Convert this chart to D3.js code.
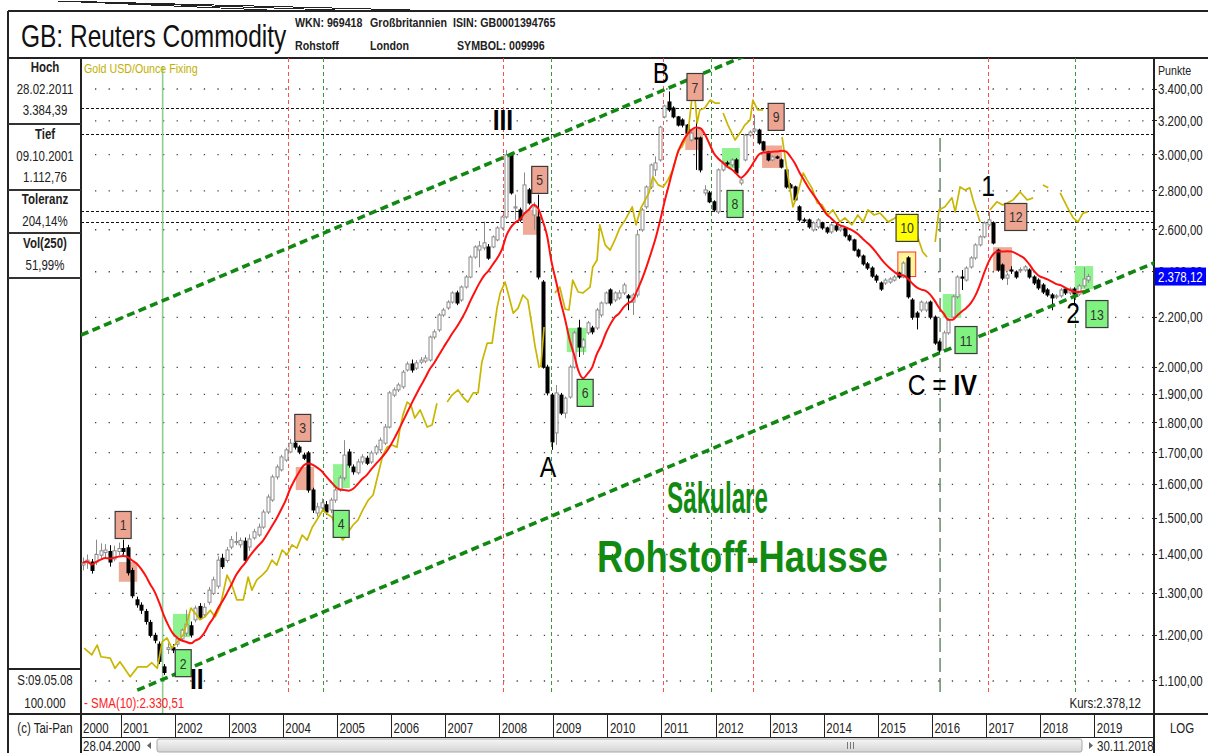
<!DOCTYPE html>
<html>
<head>
<meta charset="utf-8">
<style>
  body { margin: 0; background: #fff; }
</style>
</head>
<body>
<script src="https://d3js.org/d3.v7.min.js"></script>
<script>
// ---- monthly candles, April 2000 .. November 2018 ----
const START_YEAR = 2000, START_MONTH = 3;
const OPEN = [
  1372,1378,1380,1380,1398,1405,1408,1388,1408,
  1416,1418,1358,1284,1271,1256,1230,1200,1180,1130,1168,1172,
  1180,1192,1205,1222,1236,1268,1248,1278,1300,1318,1390,1384,
  1420,1432,1426,1436,1420,1445,1453,1475,1518,1553,1623,1645,
  1676,1702,1731,1718,1692,1699,1583,1515,1530,1539,1524,1553,
  1583,1620,1702,1654,1636,1670,1682,1670,1699,1709,1731,1785,
  1897,1916,1927,1990,2013,1997,2020,2024,2028,2119,2148,2210,
  2240,2265,2305,2274,2331,2376,2468,2501,2511,2516,2516,2550,
  2609,2664,2998,2710,2700,2685,2805,2674,2664,2353,2001,1897,
  1765,1897,1833,1890,2001,2156,2079,2136,2156,2156,2210,2261,
  2318,2274,2283,2305,2292,2265,2296,2599,2716,2821,2914,2970,
  3224,3317,3279,3224,3205,3174,3085,3097,3097,2789,2789,2742,
  2690,2914,2953,2942,2970,2842,2970,3114,3138,3144,3074,3016,
  2970,2987,2970,2914,2832,2821,2716,2649,2649,2599,2614,2634,
  2609,2589,2619,2599,2609,2570,2550,2501,2473,2436,2417,2380,
  2349,2349,2353,2362,2394,2376,2464,2274,2218,2231,2231,2265,
  2201,2099,2067,2136,2201,2288,2376,2362,2422,2464,2526,2565,
  2624,2634,2501,2431,2371,2408,2399,2405,2408,2408,2376,2362,
  2340,2318,2296,2287,2292,2322,2305,2322,2300,2336,2362
];
const HIGH = [
  1392,1400,1388,1440,1430,1428,1425,1424,1432,
  1440,1426,1365,1292,1278,1262,1236,1206,1186,1136,1182,1180,
  1196,1216,1260,1232,1270,1276,1276,1316,1342,1395,1402,1420,
  1450,1462,1446,1446,1455,1470,1485,1525,1570,1630,1662,1693,
  1716,1745,1740,1724,1700,1705,1590,1545,1558,1550,1560,1590,
  1628,1741,1712,1662,1680,1695,1690,1706,1726,1750,1795,1912,
  1925,1942,1990,2022,2030,2028,2040,2048,2125,2150,2218,2240,
  2273,2312,2315,2338,2385,2476,2524,2545,2640,2530,2572,2618,
  2672,3027,3015,2780,2712,2900,2815,2740,2780,2362,2010,1905,
  1934,1905,1892,2010,2145,2190,2115,2185,2165,2240,2268,2312,
  2325,2312,2318,2350,2300,2305,2599,2710,2830,2950,2990,3170,
  3300,3384.39,3290,3230,3215,3180,3135,3205,3105,2830,2800,2750,
  2922,2962,2965,2980,2980,2875,3122,3142,3236,3152,3080,3022,
  2995,2995,2978,2922,2842,2828,2724,2660,2656,2642,2658,2640,
  2615,2632,2628,2618,2615,2578,2556,2508,2480,2445,2425,2388,
  2356,2370,2375,2385,2400,2448,2472,2282,2226,2272,2270,2272,
  2208,2106,2145,2197,2296,2384,2408,2425,2472,2534,2573,2642,
  2690,2642,2508,2438,2394,2425,2406,2420,2430,2415,2384,2370,
  2348,2326,2304,2300,2326,2330,2330,2330,2344,2420,2390
];
const LOW = [
  1358,1362,1350,1372,1385,1392,1368,1382,1398,
  1400,1345,1288,1265,1250,1225,1195,1182,1136,1112.76,1158,1160,
  1174,1188,1198,1195,1230,1236,1243,1272,1296,1312,1362,1378,
  1414,1425,1418,1380,1410,1440,1448,1470,1512,1548,1615,1640,
  1670,1698,1710,1695,1676,1575,1515,1505,1522,1510,1515,1545,
  1578,1612,1652,1630,1630,1662,1660,1664,1692,1702,1725,1780,
  1890,1908,1920,1984,1980,1990,2012,2016,2022,2110,2140,2202,
  2232,2258,2252,2266,2324,2370,2460,2420,2500,2455,2510,2543,
  2600,2655,2780,2650,2640,2675,2727,2600,2365,1995,1896,1709,
  1725,1826,1815,1884,1995,2040,2048,2128,2130,2148,2200,2255,
  2250,2265,2275,2296,2230,2210,2285,2590,2705,2810,2880,2960,
  3215,3255,3215,3165,3160,3115,3075,2914,2900,2775,2735,2690,
  2680,2905,2935,2930,2888,2830,2962,3105,3125,3058,3018,2962,
  2962,2975,2922,2812,2808,2745,2640,2635,2605,2590,2605,2600,
  2580,2580,2590,2590,2562,2542,2495,2465,2428,2408,2372,2350,
  2314,2340,2345,2355,2368,2370,2280,2190,2150,2222,2222,2192,
  2088,2055,2060,2128,2195,2280,2318,2355,2414,2455,2518,2558,
  2615,2528,2400,2362,2340,2390,2368,2396,2400,2368,2340,2318,
  2300,2288,2230,2278,2284,2296,2296,2250,2292,2328,2350
];
const CLOSE = [
  1378,1385,1358,1400,1410,1412,1380,1410,1416,
  1408,1352,1294,1272,1259,1232,1200,1189,1142,1118,1172,1167,
  1192,1212,1226,1201,1264,1242,1266,1308,1334,1385,1368,1412,
  1440,1435,1438,1385,1442,1462,1475,1518,1562,1623,1654,1686,
  1709,1731,1718,1702,1682,1583,1524,1533,1545,1518,1553,1583,
  1620,1692,1660,1639,1670,1686,1666,1699,1719,1741,1785,1905,
  1916,1934,1982,2013,1990,2017,2028,2036,2119,2140,2210,2231,
  2265,2305,2261,2331,2376,2468,2516,2521,2536,2463,2565,2609,
  2664,2998,2789,2716,2649,2832,2736,2716,2376,2001,1905,1735,
  1905,1833,1886,2001,2136,2079,2107,2177,2140,2231,2261,2305,
  2261,2305,2305,2340,2283,2296,2575,2700,2821,2942,2953,3162,
  3292,3267,3224,3174,3174,3126,3126,3091,2914,2805,2742,2700,
  2914,2953,2948,2970,2897,2859,3114,3132,3150,3068,3027,2970,
  2987,2981,2930,2821,2816,2752,2649,2644,2614,2634,2649,2609,
  2589,2624,2599,2609,2570,2550,2501,2473,2436,2417,2380,2362,
  2322,2362,2367,2376,2376,2440,2288,2201,2201,2265,2261,2201,
  2095,2067,2136,2189,2288,2376,2371,2417,2464,2526,2565,2634,
  2649,2535,2408,2371,2385,2403,2376,2410,2422,2376,2349,2327,
  2309,2296,2283,2292,2318,2305,2322,2300,2336,2367,2378.12
];

// Gold USD/Ounce Fixing overlay [year, points]; null = gap
const GOLD = [
  [2000.32,1171],[2000.46,1156],[2000.56,1178],[2000.63,1152],[2000.80,1149],[2000.89,1127],[2000.98,1141],
  [2001.17,1109],[2001.31,1130],[2001.48,1130],[2001.57,1139],[2001.67,1127],[2001.76,1185],[2001.85,1194],[2001.94,1171],
  [2002.04,1185],[2002.15,1201],[2002.22,1229],[2002.29,1264],[2002.37,1252],[2002.46,1236],[2002.55,1243],[2002.65,1259],
  [2002.74,1243],[2002.83,1266],[2002.96,1346],[2003.05,1321],[2003.14,1284],[2003.26,1284],[2003.35,1341],[2003.42,1308],
  [2003.51,1334],[2003.61,1346],[2003.70,1359],[2003.79,1385],[2003.88,1372],[2003.98,1412],[2004.07,1399],[2004.16,1426],
  [2004.25,1417],[2004.35,1453],[2004.44,1439],[2004.53,1473],[2004.62,1495],[2004.73,1524],[2004.83,1510],[2004.90,1504],
  [2004.99,1467],[2005.10,1439],[2005.20,1461],[2005.29,1481],[2005.38,1495],[2005.47,1524],[2005.57,1553],[2005.66,1568],
  [2005.75,1629],[2005.84,1692],[2005.92,1718],[2006.01,1725],[2006.10,1718],[2006.16,1782],[2006.21,1826],[2006.29,1872],
  [2006.36,1861],[2006.43,1816],[2006.53,1844],[2006.66,1785],[2006.75,1792],[2006.84,1868],
  null,
  [2007.03,1872],[2007.12,1897],[2007.23,1916],[2007.32,1890],[2007.41,1872],[2007.51,1905],[2007.60,1905],[2007.67,2020],
  [2007.77,2095],[2007.86,2095],[2007.95,2239],[2008.01,2305],[2008.10,2353],[2008.15,2309],[2008.25,2218],[2008.34,2239],
  [2008.43,2296],[2008.52,2274],[2008.60,2160],[2008.65,2087],[2008.73,1998],
  null,
  [2008.76,2001],[2008.82,2160],
  null,
  [2009.02,2305],[2009.11,2331],[2009.21,2235],[2009.28,2231],[2009.35,2362],[2009.45,2309],[2009.54,2305],[2009.67,2331],
  [2009.72,2422],[2009.80,2454],[2009.85,2624],[2009.95,2526],[2010.04,2501],[2010.13,2550],[2010.22,2609],[2010.32,2649],
  [2010.45,2716],[2010.52,2624],[2010.61,2710],[2010.69,2752],[2010.76,2789],[2010.83,2876],[2010.93,2832],[2011.02,2821],
  [2011.11,2859],[2011.20,2914],[2011.30,3027],[2011.37,3045],[2011.48,3126],[2011.55,3329],[2011.59,3420],[2011.65,3186],
  [2011.70,3267],[2011.79,3279],[2011.89,3329],[2011.98,3310],[2012.07,3310],
  null,
  [2012.13,3248],[2012.22,3174],[2012.35,3085],[2012.44,3126],[2012.53,3174],[2012.63,3205],[2012.68,3329],[2012.77,3267],
  [2012.87,3267],
  null,
  [2013.22,3102],[2013.31,2914],[2013.42,2716],[2013.50,2778],[2013.61,2897],[2013.68,2859],[2013.77,2816],[2013.87,2736],
  [2013.96,2726],[2014.07,2674],[2014.16,2700],[2014.29,2639],[2014.38,2659],[2014.51,2624],[2014.62,2674],[2014.72,2639],
  [2014.81,2700],[2014.92,2674],[2015.03,2684],[2015.18,2639],[2015.34,2664],
  null,
  [2015.71,2575],[2015.82,2492],[2015.90,2468],
  null,
  [2016.05,2540],[2016.12,2700],[2016.23,2716],[2016.36,2763],[2016.42,2690],[2016.51,2821],[2016.60,2805],[2016.69,2816],
  [2016.75,2752],[2016.88,2639],
  null,
  [2017.06,2700],[2017.19,2742],[2017.30,2726],[2017.38,2736],[2017.49,2752],[2017.62,2794],[2017.75,2752],[2017.86,2763],
  null,
  [2018.04,2832],[2018.14,2816],
  null,
  [2018.36,2789],[2018.49,2716],[2018.60,2659],[2018.69,2639],[2018.78,2684],[2018.87,2690]
];

// trend channel (two points each)
const UPPER_T = [2000.26, 2012.44], UPPER_V = [2127, 3607];
const LOWER_T = [2001.30, 2020.09], LOWER_V = [1081, 2440];
// horizontal resistance / support levels
const LEVELS = [3282, 3118, 2692, 2637];

// signals
const SIG_LABEL = ['1','2','3','4','5','6','7','8','9','10','11','12','13'];
const SIG_KIND  = ['sell','buy','sell','buy','sell','buy','sell','buy','sell','warn','buy','sell','buy'];
const SIG_BOX_T = [2001.04,2002.15,2004.36,2005.07,2008.74,2009.58,2011.61,2012.35,2013.11,2015.53,2016.62,2017.54,2019.04];
const SIG_BOX_V = [1481,1138,1782,1484,2859,1905,3413,2731,3224,2609,2107,2664,2214];
const ZONE_T0 = [2000.96,2001.96,2004.23,2004.92,2008.43,2009.24,2011.43,2012.11,2012.85,2015.36,2016.19,2017.12,2018.63];
const ZONE_T1 = [2001.30,2002.28,2004.57,2005.23,2008.74,2009.60,2011.76,2012.44,2013.22,2015.69,2016.53,2017.47,2018.97];
const ZONE_HI = [1380,1250,1654,1663,2700,2156,3151,3038,3053,2492,2300,2515,2426];
const ZONE_LO = [1329,1196,1583,1589,2575,2059,3027,2925,2925,2378,2198,2404,2322];
const SIG_LINE_T = [2004.09,2004.73,2008.06,2008.95,2011.02,2011.91,2012.68,2017.03,2018.63];
const SIG_LINE_KIND = ['sell','buy','sell','buy','sell','buy','sell','sell','buy'];
const LOW_MARK_T = 2001.77, WAVE_C_T = 2016.14;

// Elliott wave labels
const WAVE_TEXT = ['II','III','A','B','C','1','2'];
const WAVE_T = [2002.40,2008.06,2008.89,2010.98,2016.18,2017.03,2018.60];
const WAVE_V = [1104,3205,1654,3504,1934,2827,2218];

const Y_TICKS = [1100,1200,1300,1400,1500,1600,1700,1800,1900,2000,2200,2400,2600,2800,3000,3200,3400];
const YEARS = d3.range(2000, 2020);
const LAST = 2378.12, SMA_LAST = 2330.51;

// ---- layout ----
const W = 1208, H = 753;
const PL = 81, PR = 1154, PT = 58, PB = 713;
const FONT = "'Liberation Sans Narrow','Arial Narrow','Liberation Sans',Arial,sans-serif";
const NARROW = 0.82; // emulate Arial Narrow
const de = d3.formatLocale({decimal: ',', thousands: '.', grouping: [3], currency: ['', '']});
const fmt = de.format(',.2f');

const svg = d3.select('body').append('svg').attr('width', W).attr('height', H)
  .style('font-family', FONT);

const x = d3.scaleLinear().domain([2000.2606, 2020.0946]).range([PL, PR]);
const y = d3.scaleLog().domain([1034.9, 3607]).range([PB, PT]);

const defs = svg.append('defs');
defs.append('clipPath').attr('id', 'plot')
  .append('rect').attr('x', PL).attr('y', PT).attr('width', PR - PL).attr('height', PB - PT);

function line(x1, y1, x2, y2, w, c) {
  return svg.append('line').attr('x1', x1).attr('y1', y1).attr('x2', x2).attr('y2', y2)
    .attr('stroke', c || '#222').attr('stroke-width', w || 1).attr('shape-rendering', 'crispEdges');
}
// text squeezed horizontally around its anchor point
function text(s, tx, ty, o) {
  o = o || {};
  const g = svg.append('g').attr('transform', `translate(${tx},${ty}) scale(${o.f || NARROW},1)`);
  return g.append('text').attr('x', 0).attr('y', 0).text(s)
    .attr('font-size', o.size || 13).attr('font-weight', o.bold ? 'bold' : 'normal')
    .attr('fill', o.fill || '#222').attr('text-anchor', o.anchor || 'start');
}

// ---- header ----
line(8, 11, W, 11, 1.5);
line(8, 58, W, 58, 1.5);
line(8, 11, 8, H, 1.5);
[290, 366, 449].forEach(v => line(v, 11, 58, 1));
text('GB: Reuters Commodity', 21, 47, {size: 31, fill: '#111', f: 0.79});
text('WKN: 969418', 295, 27, {bold: true});
text('Rohstoff', 295, 50, {bold: true});
text('Großbritannien', 370, 27, {bold: true});
text('London', 370, 50, {bold: true});
text('ISIN: GB0001394765', 453, 27, {bold: true});
text('SYMBOL: 009996', 457, 50, {bold: true});

// ---- left info panel ----
line(PL, PT, PL, H, 1.5);
[124, 190, 233, 278].forEach(v => line(8, v, PL, v, 2, '#333'));
line(8, 669, PL, 669, 1.5);
const PX = 45;
text('Hoch', PX, 72, {bold: true, anchor: 'middle', size: 14});
text('28.02.2011', PX, 94, {anchor: 'middle', size: 14});
text('3.384,39', PX, 115, {anchor: 'middle', size: 14});
text('Tief', PX, 139, {bold: true, anchor: 'middle', size: 14});
text('09.10.2001', PX, 161, {anchor: 'middle', size: 14});
text('1.112,76', PX, 182, {anchor: 'middle', size: 14});
text('Toleranz', PX, 204, {bold: true, anchor: 'middle', size: 14});
text('204,14%', PX, 226, {anchor: 'middle', size: 14});
text('Vol(250)', PX, 248, {bold: true, anchor: 'middle', size: 14});
text('51,99%', PX, 270, {anchor: 'middle', size: 14});
text('S:09.05.08', PX, 685, {anchor: 'middle', size: 14});
text('100.000', PX, 708, {anchor: 'middle', size: 14});

// ---- bottom rows ----
line(8, PB + 1, W, PB + 1, 1.5);
line(PL, 737, PR, 737, 1);
text('(c) Tai-Pan', PX, 733, {anchor: 'middle', size: 14});
YEARS.forEach(yr => {
  const xx = Math.max(PL, x(yr));
  if (yr > 2000) line(xx, PB + 1, xx, 737, 1);
  text(String(yr), xx + 2, 733, {size: 14});
});
text('LOG', 1182, 733, {anchor: 'middle', size: 14});
text('28.04.2000', 83, 751, {size: 14});
svg.append('path').attr('d', 'M151,742 L147,745.5 L151,749 Z').attr('fill', '#666');
const grad = defs.append('linearGradient').attr('id', 'sb').attr('x1', 0).attr('x2', 0).attr('y1', 0).attr('y2', 1);
grad.append('stop').attr('offset', 0).attr('stop-color', '#f6f6f6');
grad.append('stop').attr('offset', 1).attr('stop-color', '#d4d4d4');
svg.append('rect').attr('x', 157).attr('y', 739).attr('width', 925).attr('height', 13)
  .attr('fill', 'url(#sb)').attr('stroke', '#a8a8a8').attr('rx', 2);
[847, 850, 853].forEach(v => line(v, 742, v, 749, 1, '#777'));
svg.append('path').attr('d', 'M1089,742 L1093,745.5 L1089,749 Z').attr('fill', '#666');
text('30.11.2018', 1097, 751, {size: 14});

// ---- right axis ----
line(PR, PT, PR, H, 1.5);
text('Punkte', 1158, 75, {size: 13});
Y_TICKS.forEach(v => {
  line(PR - 2, y(v), PR + 3, y(v), 1);
  text(fmt(v), 1158, y(v) + 5, {size: 14});
});

// ---- plot contents ----
const plot = svg.append('g').attr('clip-path', 'url(#plot)');

// dotted grid
Y_TICKS.forEach(v => {
  plot.append('line').attr('x1', 95).attr('x2', PR).attr('y1', y(v)).attr('y2', y(v))
    .attr('stroke', '#444').attr('stroke-width', 1.3).attr('stroke-dasharray', '1.3,12.3');
});

// resistance levels
LEVELS.forEach(v => {
  plot.append('line').attr('x1', PL).attr('x2', PR).attr('y1', Math.round(y(v)) + 0.5).attr('y2', Math.round(y(v)) + 0.5)
    .attr('stroke', '#111').attr('stroke-width', 1.2).attr('stroke-dasharray', '3,2');
});

// vertical signal lines
SIG_LINE_T.forEach((t, i) => {
  const xx = Math.round(x(t)) + 0.5;
  plot.append('line').attr('x1', xx).attr('x2', xx).attr('y1', PT).attr('y2', PB - 18)
    .attr('stroke', SIG_LINE_KIND[i] === 'sell' ? '#ff5050' : '#3a9a3a')
    .attr('stroke-width', 1).attr('stroke-dasharray', '4,3');
});
plot.append('line').attr('x1', x(LOW_MARK_T)).attr('x2', x(LOW_MARK_T)).attr('y1', PT + 8).attr('y2', PB)
  .attr('stroke', '#8fcf8f').attr('stroke-width', 1.6);
plot.append('line').attr('x1', x(WAVE_C_T)).attr('x2', x(WAVE_C_T)).attr('y1', PT + 80).attr('y2', PB - 20)
  .attr('stroke', '#1f4f1f').attr('stroke-width', 1).attr('stroke-dasharray', '14,6');

// signal zones
const ZONE_FILL = {sell: '#eeaa96', buy: '#8ef28e', warn: '#fff59a'};
SIG_LABEL.forEach((s, i) => {
  const r = plot.append('rect').attr('x', x(ZONE_T0[i])).attr('y', y(ZONE_HI[i]))
    .attr('width', x(ZONE_T1[i]) - x(ZONE_T0[i])).attr('height', y(ZONE_LO[i]) - y(ZONE_HI[i]))
    .attr('fill', ZONE_FILL[SIG_KIND[i]]);
  if (SIG_KIND[i] === 'warn') r.attr('stroke', '#ff3030').attr('stroke-width', 1);
});

// candles
const candles = CLOSE.map((c, i) => ({
  t: START_YEAR + (START_MONTH + i + 0.5) / 12, o: OPEN[i], h: HIGH[i], l: LOW[i], c: c
}));
const cg = plot.append('g');
candles.forEach(d => {
  const up = d.c >= d.o;
  const xx = Math.round(x(d.t)) + 0.5;
  const col = up ? '#8a8a8a' : '#000';
  cg.append('line').attr('x1', xx).attr('x2', xx).attr('y1', y(d.h)).attr('y2', y(d.l))
    .attr('stroke', col).attr('stroke-width', 1);
  const top = y(Math.max(d.o, d.c)), bot = y(Math.min(d.o, d.c));
  cg.append('rect').attr('x', xx - 1.5).attr('y', top).attr('width', 3).attr('height', Math.max(1, bot - top))
    .attr('fill', up ? '#fff' : '#000').attr('stroke', col).attr('stroke-width', 1);
});

// gold overlay
const goldLine = d3.line().defined(d => d !== null).x(d => x(d[0])).y(d => y(d[1]));
plot.append('path').attr('d', goldLine(GOLD)).attr('fill', 'none')
  .attr('stroke', '#c9b600').attr('stroke-width', 1.7).attr('stroke-linejoin', 'round');

// SMA(10)
const sma = candles.map((d, i) => [d.t, d3.mean(CLOSE.slice(Math.max(0, i - 9), i + 1))]);
plot.append('path').attr('d', d3.line().curve(d3.curveMonotoneX).x(d => x(d[0])).y(d => y(d[1]))(sma))
  .attr('fill', 'none').attr('stroke', '#ff1010').attr('stroke-width', 2);

// trend channel
function channel(T, V) {
  const k = (Math.log(V[1]) - Math.log(V[0])) / (T[1] - T[0]);
  const t0 = T[0], t1 = 2021;
  const v1 = Math.exp(Math.log(V[0]) + k * (t1 - t0));
  plot.append('line').attr('x1', x(t0)).attr('y1', y(V[0])).attr('x2', x(t1)).attr('y2', y(v1))
    .attr('stroke', '#118811').attr('stroke-width', 3.6).attr('stroke-dasharray', '8,4.5');
}
channel(UPPER_T, UPPER_V);
channel(LOWER_T, LOWER_V);

// signal boxes
const BOX_FILL = {sell: '#eda592', buy: '#7ff27f', warn: '#ffff00'};
SIG_LABEL.forEach((s, i) => {
  const w = s.length > 1 ? 22 : 16, h = 27;
  const cx = x(SIG_BOX_T[i]), cy = y(SIG_BOX_V[i]);
  svg.append('rect').attr('x', cx - w / 2).attr('y', cy - h / 2).attr('width', w).attr('height', h)
    .attr('fill', BOX_FILL[SIG_KIND[i]]).attr('stroke', '#3a3a3a').attr('stroke-width', 1.2);
  text(s, cx, cy + 5.5, {anchor: 'middle', size: 15, fill: '#333'});
});

// wave labels
WAVE_TEXT.forEach((s, i) => {
  const g = svg.append('g').attr('transform', `translate(${x(WAVE_T[i])},${y(WAVE_V[i]) + 10}) scale(0.85,1)`);
  const t = g.append('text').attr('text-anchor', 'middle').attr('font-size', 29).attr('fill', '#000');
  if (s === 'C') {
    t.append('tspan').text('C ');
    t.append('tspan').text('= ').attr('font-weight', 'normal');
    t.append('tspan').text('IV').attr('font-weight', 'bold');
  } else {
    t.text(s).attr('font-weight', /^I+$/.test(s) ? 'bold' : 'normal');
  }
});

// headline
svg.append('text').attr('x', 667).attr('y', 513).text('Säkulare')
  .attr('font-size', 45).attr('font-weight', 'bold').attr('fill', '#128a12')
  .attr('textLength', 101).attr('lengthAdjust', 'spacingAndGlyphs');
svg.append('text').attr('x', 597).attr('y', 572).text('Rohstoff-Hausse')
  .attr('font-size', 45).attr('font-weight', 'bold').attr('fill', '#128a12')
  .attr('textLength', 291).attr('lengthAdjust', 'spacingAndGlyphs');

// legends / value labels
text('Gold USD/Ounce Fixing', 84, 73, {size: 13, fill: '#c2b000'});
text('- SMA(10):' + fmt(SMA_LAST), 84, 708, {size: 14, fill: '#ff2020'});
text('Kurs:' + fmt(LAST), 1141, 708, {size: 14, anchor: 'end'});
svg.append('rect').attr('x', 1155).attr('y', y(LAST) - 9).attr('width', 51).attr('height', 18).attr('fill', '#0000ff');
text(fmt(LAST), 1158, y(LAST) + 5, {size: 14, fill: '#fff'});
</script>
</body>
</html>
